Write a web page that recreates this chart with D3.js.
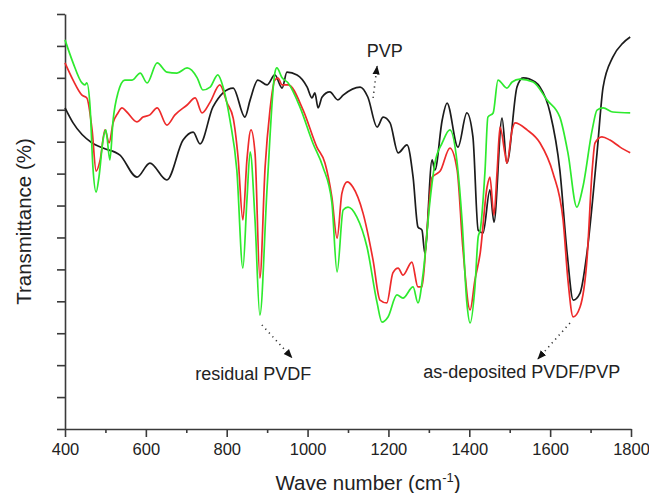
<!DOCTYPE html>
<html>
  <head>
    <meta charset="utf-8">
    <title>FTIR spectra</title>
    <script src="https://cdn.jsdelivr.net/npm/d3@7"></script>
    <style>
      body { margin: 0; background: #fff; }
      #chart { display: block; font-family: "Liberation Sans", Arial, sans-serif; }
      .axis path, .axis line { stroke: #3a3a3a; stroke-width: 1.6; }
      .axis text { font-size: 16.5px; fill: #222; }
      .spectrum { fill: none; stroke-width: 1.7; stroke-linejoin: round; }
      .pointer { stroke: #333; stroke-width: 1.6; stroke-dasharray: 1.2 4; fill: none; }
      .note { font-size: 18px; fill: #222; }
      .title { font-size: 20.5px; fill: #222; }
    </style>
  </head>

  <body>
    <svg id="chart" width="649" height="493">
      <defs>
        <marker id="head" viewBox="0 0 10 10" refX="9" refY="5" markerWidth="9" markerHeight="9" markerUnits="userSpaceOnUse" orient="auto">
          <path d="M0,1 L10,5 L0,9 Z" fill="#111"></path>
        </marker>
      </defs>
      <g id="xAxisGroup" class="axis"></g>
      <g id="xMinorGroup" class="axis"></g>
      <g id="yAxisGroup" class="axis"></g>
      <g id="lineGroup"></g>
      <g id="noteGroup"></g>
    </svg>

    <script>
      // spectra: wave number (cm-1) and transmittance (arbitrary units)
      pvpWave = [400, 420, 467, 494, 536, 578, 610, 652, 692, 717, 734, 766, 816, 845, 858, 877, 900, 919, 937, 949, 974, 999, 1011, 1018, 1026, 1036, 1055, 1075, 1088, 1130, 1149, 1172, 1187, 1204, 1224, 1246, 1261, 1273, 1283, 1290, 1308, 1315, 1333, 1345, 1372, 1394, 1409, 1422, 1434, 1451, 1461, 1481, 1493, 1518, 1533, 1563, 1575, 1600, 1624, 1642, 1657, 1674, 1691, 1716, 1731, 1755, 1780, 1798];
      pvpValue = [100.6, 95.9, 89.6, 88.0, 85.8, 78.9, 83.3, 78.0, 90.5, 93.0, 89.3, 100.9, 106.8, 97.7, 103.1, 109.3, 107.8, 110.9, 106.8, 111.8, 110.9, 107.1, 103.7, 105.3, 100.6, 104.0, 105.6, 103.1, 104.6, 107.1, 104.0, 94.6, 97.7, 95.9, 86.5, 89.0, 78.9, 63.3, 62.3, 55.1, 84.3, 81.1, 96.8, 102.1, 88.3, 99.0, 91.5, 62.3, 61.4, 74.9, 64.8, 97.4, 83.3, 107.1, 110.0, 108.7, 107.1, 99.0, 81.1, 55.1, 40.4, 42.6, 55.1, 86.5, 107.1, 116.5, 120.9, 122.8];

      blendWave = [400, 420, 442, 454, 467, 477, 487, 499, 509, 519, 531, 541, 553, 578, 593, 610, 628, 652, 672, 702, 722, 739, 759, 783, 801, 816, 828, 840, 850, 860, 870, 882, 895, 907, 919, 927, 937, 952, 989, 1023, 1043, 1060, 1073, 1085, 1098, 1112, 1137, 1162, 1179, 1196, 1211, 1224, 1236, 1258, 1273, 1283, 1295, 1308, 1315, 1328, 1352, 1370, 1384, 1402, 1414, 1427, 1444, 1451, 1461, 1469, 1476, 1488, 1493, 1506, 1513, 1543, 1575, 1607, 1632, 1644, 1657, 1674, 1691, 1704, 1711, 1728, 1748, 1773, 1798];
      blendValue = [114.7, 109.3, 104.6, 103.7, 93.7, 80.8, 84.3, 93.7, 89.6, 95.9, 99.0, 100.6, 99.3, 96.2, 97.7, 98.4, 100.6, 95.2, 98.4, 101.5, 103.7, 99.0, 102.4, 107.8, 102.1, 97.4, 85.2, 65.5, 84.3, 93.7, 86.5, 47.3, 82.1, 99.9, 109.3, 109.9, 107.8, 107.8, 99.9, 88.3, 83.3, 72.7, 59.8, 73.9, 77.4, 75.8, 67.7, 52.9, 40.4, 39.5, 48.9, 50.4, 48.2, 52.3, 44.5, 44.5, 61.4, 78.9, 79.6, 80.8, 88.0, 81.1, 56.9, 37.3, 46.7, 55.1, 75.8, 78.9, 67.0, 81.1, 94.6, 86.5, 83.3, 93.7, 95.9, 93.7, 89.6, 80.2, 65.5, 46.7, 35.1, 38.2, 52.9, 81.1, 89.6, 91.5, 90.5, 88.3, 86.5];

      pvdfWave = [400, 420, 442, 449, 454, 462, 469, 477, 484, 494, 501, 511, 519, 531, 548, 566, 586, 603, 628, 652, 677, 702, 727, 741, 759, 778, 791, 808, 825, 840, 850, 858, 870, 882, 900, 919, 924, 937, 952, 981, 1013, 1038, 1060, 1073, 1088, 1100, 1122, 1147, 1172, 1184, 1199, 1221, 1236, 1261, 1273, 1286, 1303, 1315, 1333, 1352, 1370, 1382, 1394, 1402, 1414, 1422, 1427, 1439, 1446, 1459, 1471, 1493, 1506, 1525, 1558, 1592, 1624, 1644, 1666, 1681, 1704, 1716, 1731, 1755, 1798];
      pvdfValue = [121.9, 114.7, 108.4, 107.8, 108.4, 100.9, 82.1, 74.2, 78.9, 90.5, 93.7, 84.3, 96.8, 105.3, 109.3, 109.3, 111.5, 108.4, 114.7, 111.8, 111.5, 113.1, 110.0, 106.2, 107.1, 110.9, 107.1, 96.8, 81.1, 50.4, 71.7, 86.8, 65.5, 35.7, 75.8, 111.5, 113.1, 110.0, 108.4, 100.9, 89.6, 82.1, 71.1, 49.2, 68.6, 69.5, 66.4, 57.0, 39.5, 33.5, 35.1, 42.0, 41.0, 44.5, 39.5, 48.9, 71.7, 83.3, 89.6, 93.7, 83.3, 65.5, 39.5, 33.2, 44.5, 60.2, 62.3, 81.1, 97.7, 99.0, 109.3, 106.8, 108.7, 109.6, 108.7, 103.1, 97.7, 86.5, 69.5, 75.8, 93.7, 99.9, 100.6, 99.3, 99.0];

      seriesNames = ["PVP", "as-deposited PVDF/PVP", "residual PVDF"];
      seriesColors = ["#1c1c1c", "#ee2b2b", "#2eea2e"];

      // axis ticks
      xTicks = [400, 600, 800, 1000, 1200, 1400, 1600, 1800];
      xMinorTicks = [500, 700, 900, 1100, 1300, 1500, 1700];
      yTicks = d3.range(0, 131, 10);

      // annotations: label anchor and dotted pointer, in data units
      notes = [
        { text: "PVP", x: 1191, y: 116.5, anchor: "middle", from: [1162, 103.7], to: [1172, 113.6] },
        { text: "residual PVDF", x: 722, y: 15.4, anchor: "start", from: [887, 32.6], to: [961, 22.4] },
        { text: "as-deposited PVDF/PVP", x: 1286, y: 16.0, anchor: "start", from: [1649, 33.2], to: [1570, 22.0] }
      ];

      // elements
      chart = d3.select("#chart");
      xAxisGroup = d3.select("#xAxisGroup");
      xMinorGroup = d3.select("#xMinorGroup");
      yAxisGroup = d3.select("#yAxisGroup");
      lineGroup = d3.select("#lineGroup");
      noteGroup = d3.select("#noteGroup");

      margin = { top: 14, right: 18, bottom: 64, left: 65 };
      width = 649;
      height = 493;

      x = d3.scaleLinear()
        .domain([400, 1800])
        .range([margin.left, width - margin.right]);
      y = d3.scaleLinear()
        .domain([0, 130])
        .range([height - margin.bottom, margin.top]);

      // axes
      xAxis = d3.axisBottom(x)
        .tickValues(xTicks)
        .tickFormat(d3.format("d"))
        .tickSizeInner(8)
        .tickSizeOuter(0)
        .tickPadding(6);
      xMinor = d3.axisBottom(x)
        .tickValues(xMinorTicks)
        .tickFormat("")
        .tickSizeInner(4)
        .tickSizeOuter(0);
      yAxis = d3.axisLeft(y)
        .tickValues(yTicks)
        .tickFormat("")
        .tickSizeInner(8)
        .tickSizeOuter(0);

      xAxisGroup.attr("transform", "translate(0, " + y(0) + ")")
        .call(xAxis);
      xMinorGroup.attr("transform", "translate(0, " + y(0) + ")")
        .call(xMinor);
      xMinorGroup.select(".domain").remove();
      yAxisGroup.attr("transform", "translate(" + x(400) + ", 0)")
        .call(yAxis);

      // spectra
      series = [
        { name: seriesNames[0], color: seriesColors[0], points: d3.zip(pvpWave, pvpValue) },
        { name: seriesNames[1], color: seriesColors[1], points: d3.zip(blendWave, blendValue) },
        { name: seriesNames[2], color: seriesColors[2], points: d3.zip(pvdfWave, pvdfValue) }
      ];

      line = d3.line()
        .x(d => x(d[0]))
        .y(d => y(d[1]))
        .curve(d3.curveMonotoneX);

      lineGroup.selectAll(".spectrum")
          .data(series)
        .enter().append("path")
          .classed("spectrum", true)
          .attr("stroke", d => d.color)
          .attr("d", d => line(d.points));

      // annotations
      noteGroup.selectAll(".pointer")
          .data(notes)
        .enter().append("line")
          .classed("pointer", true)
          .attr("x1", d => x(d.from[0]))
          .attr("y1", d => y(d.from[1]))
          .attr("x2", d => x(d.to[0]))
          .attr("y2", d => y(d.to[1]))
          .attr("marker-end", "url(#head)");

      noteGroup.selectAll(".note")
          .data(notes)
        .enter().append("text")
          .classed("note", true)
          .attr("x", d => x(d.x))
          .attr("y", d => y(d.y))
          .attr("text-anchor", d => d.anchor)
          .text(d => d.text);

      // titles
      xTitle = chart.append("text")
        .classed("title", true)
        .attr("x", 368)
        .attr("y", 490)
        .attr("text-anchor", "middle");
      xTitle.append("tspan").text("Wave number (cm");
      xTitle.append("tspan").attr("dy", -8).style("font-size", "13px").text("-1");
      xTitle.append("tspan").attr("dy", 8).text(")");

      chart.append("text")
        .classed("title", true)
        .attr("transform", "translate(31, " + ((y(0) + y(130)) / 2) + ") rotate(-90)")
        .attr("text-anchor", "middle")
        .text("Transmittance (%)");
    </script>
  </body>
</html>
